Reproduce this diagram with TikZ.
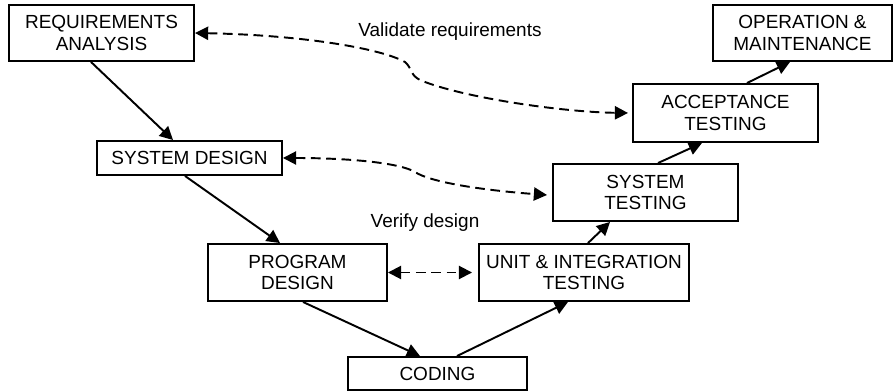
\documentclass[tikz,border=0pt]{standalone}
\usepackage{fontspec}
\setmainfont{Liberation Sans}
\usepackage{tikz}
\usetikzlibrary{arrows.meta,positioning,shapes,calc}

\begin{document}
\begin{tikzpicture}[scale=1.0,
  phase/.style={draw, line width=1.1pt, inner sep=0pt, align=center,
    font=\fontsize{10.8}{12.2}\selectfont},
  flow/.style={line width=1.1pt, -{Triangle[length=7.5pt,width=7.5pt]}},
  check/.style={line width=1.1pt, dash pattern=on 5.5pt off 3.2pt,
    {Triangle[length=7.5pt,width=7.5pt]}-{Triangle[length=7.5pt,width=7.5pt]}}]

\useasboundingbox (0,0) rectangle (17.86,7.82);

% Left branch of the V
\node[phase, minimum width=3.7cm, minimum height=1.12cm] (req) at (2.03,7.16) {REQUIREMENTS\\ANALYSIS};
\node[phase, minimum width=3.7cm, minimum height=0.68cm] (sysdes) at (3.79,4.66) {SYSTEM DESIGN};
\node[phase, minimum width=3.58cm, minimum height=1.14cm] (progdes) at (5.95,2.37) {PROGRAM\\DESIGN};
\node[phase, minimum width=3.58cm, minimum height=0.66cm] (coding) at (8.75,0.35) {CODING};

% Right branch of the V
\node[phase, minimum width=4.2cm, minimum height=1.14cm] (unit) at (11.68,2.37) {UNIT \& INTEGRATION\\TESTING};
\node[phase, minimum width=3.7cm, minimum height=1.14cm] (systest) at (12.91,3.97) {SYSTEM\\TESTING};
\node[phase, minimum width=3.7cm, minimum height=1.16cm] (accept) at (14.51,5.56) {ACCEPTANCE\\TESTING};
\node[phase, minimum width=3.58cm, minimum height=1.12cm] (oper) at (16.05,7.16) {OPERATION \&\\MAINTENANCE};

% Flow down and up
\draw[flow] ([xshift=-0.21cm]req.south) -- ([xshift=-0.33cm]sysdes.north);
\draw[flow] ([xshift=-0.09cm]sysdes.south) -- ([xshift=-0.35cm]progdes.north);
\draw[flow] ([xshift=0.11cm]progdes.south) -- ([xshift=-0.35cm]coding.north);
\draw[flow] ([xshift=0.39cm]coding.north) -- ([xshift=-0.32cm]unit.south);
\draw[flow] ([xshift=0.08cm]unit.north) -- ([xshift=-0.71cm]systest.south);
\draw[flow] ([xshift=0.25cm]systest.north) -- ([xshift=-0.47cm]accept.south);
\draw[flow] ([xshift=0.43cm]accept.north) -- ([xshift=-0.25cm]oper.south);

% Validation and verification links
\draw[check] (req.east) .. controls (6.0,7.12) and (7.6,6.86) .. (8.1,6.58)
  .. controls (8.24,6.46) and (8.2,6.32) .. (8.4,6.22)
  .. controls (9.2,5.88) and (11.2,5.58) .. ([xshift=-0.08cm]accept.west);
\draw[check] (sysdes.east) .. controls (7.0,4.66) and (8.0,4.56) .. (8.3,4.38)
  .. controls (8.6,4.18) and (9.6,4.02) .. ([xshift=-0.1cm,yshift=-0.05cm]systest.west);
\draw[check] (progdes.east) -- ([xshift=-0.12cm]unit.west);

% Labels
\node[font=\fontsize{10.8}{12.2}\selectfont] (valid) at (9.0,7.18) {Validate requirements};
\node[font=\fontsize{10.8}{12.2}\selectfont] (verify) at (8.5,3.36) {Verify design};

\end{tikzpicture}
\end{document}
